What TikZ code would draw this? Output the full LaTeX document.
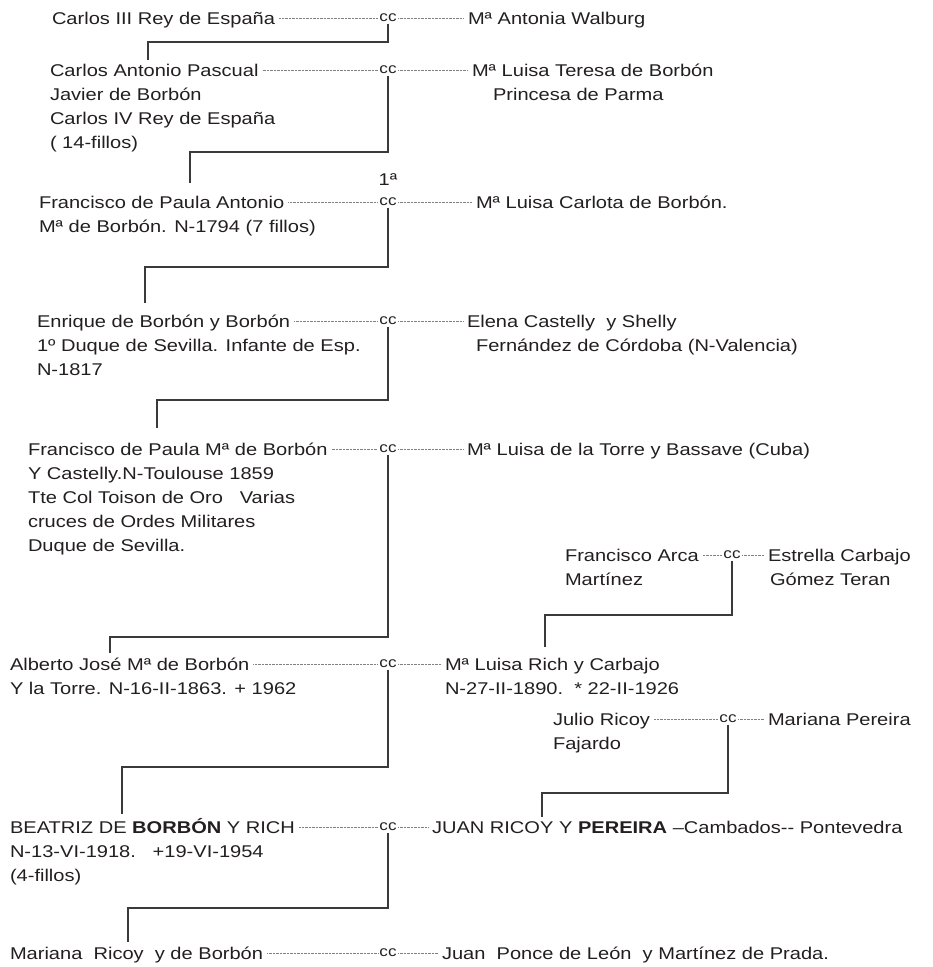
\documentclass[tikz,border=0pt]{standalone}
\usepackage{fontspec}
\setmainfont[FakeStretch=1.18]{Liberation Sans}
\usetikzlibrary{positioning,calc}
\definecolor{ink}{HTML}{231F20}
\definecolor{rule}{HTML}{3A3A3A}
\tikzset{
    person/.style = {
        anchor=base west,
        inner sep=0pt,
        outer sep=4pt,
        text=ink,
        font=\fontsize{17}{24.2}\selectfont
    },
    notes/.style = {
        person,
        align=left
    },
    wed/.style = {
        inner sep=1.5pt,
        text=ink,
        font=\fontsize{14.5}{14.5}\selectfont
    },
    leader/.style = {
        draw=gray,
        line width=0.6pt,
        dash pattern=on 0.6pt off 0.8pt
    },
    link/.style = {
        draw=rule,
        line width=1.1pt
    },
}

\begin{document}
\begin{tikzpicture}[x=1pt, y=-1pt]
    \useasboundingbox (0,0) rectangle (933,967);

    % Carlos III
    \node[person] (carlos3) at (48,24) {Carlos III Rey de España};
    \node[wed] (cc1) at (388,18) {cc};
    \node[person] (antonia) at (464,24) {Mª Antonia Walburg};

    % Carlos IV (notes sit on the base of their last line)
    \node[person] (carlos4) at (46,76) {Carlos Antonio Pascual};
    \node[notes] (carlos4b) at (46,148.6) {Javier de Borbón\\Carlos IV Rey de España\\( 14-fillos)};
    \node[wed] (cc2) at (388,70) {cc};
    \node[person] (teresa) at (468,76) {Mª Luisa Teresa de Borbón};
    \node[person] (teresab) at (489,100.2) {Princesa de Parma};

    % Francisco de Paula Antonio
    \node[person] (paula) at (35,208) {Francisco de Paula Antonio};
    \node[person] (paulab) at (35,232.2) {Mª de Borbón. N-1794 (7 fillos)};
    \node[person, anchor=base] (primera) at (388,185) {1ª};
    \node[wed] (cc3) at (388,202) {cc};
    \node[person] (carlota) at (472,208) {Mª Luisa Carlota de Borbón.};

    % Enrique
    \node[person] (enrique) at (33,327) {Enrique de Borbón y Borbón};
    \node[notes] (enriqueb) at (33,375.4) {1º Duque de Sevilla. Infante de Esp.\\N-1817};
    \node[wed] (cc4) at (388,321) {cc};
    \node[person] (elena) at (463,327) {Elena Castelly\ \ y Shelly};
    \node[person] (elenab) at (472,351.2) {Fernández de Córdoba (N-Valencia)};

    % Francisco de Paula Ma
    \node[person] (fpaula) at (24,455) {Francisco de Paula Mª de Borbón};
    \node[notes] (fpaulab) at (24,551.8) {Y Castelly.N-Toulouse 1859\\Tte Col Toison de Oro\ \ \ Varias\\cruces de Ordes Militares\\Duque de Sevilla.};
    \node[wed] (cc5) at (388,449) {cc};
    \node[person] (torre) at (463,455) {Mª Luisa de la Torre y Bassave (Cuba)};

    % Arca
    \node[person] (arca) at (561,561) {Francisco Arca};
    \node[person] (arcab) at (561,585.2) {Martínez};
    \node[wed] (ccA) at (732,555) {cc};
    \node[person] (estrella) at (764,561) {Estrella Carbajo};
    \node[person] (estrellab) at (766,585.2) {Gómez Teran};

    % Alberto
    \node[person] (alberto) at (6,670) {Alberto José Mª de Borbón};
    \node[person] (albertob) at (6,694.2) {Y la Torre. N-16-II-1863. + 1962};
    \node[wed] (cc6) at (388,664) {cc};
    \node[person] (rich) at (441,670) {Mª Luisa Rich y Carbajo};
    \node[person] (richb) at (441,694.2) {N-27-II-1890.\ \ * 22-II-1926};

    % Julio
    \node[person] (julio) at (549,725) {Julio Ricoy};
    \node[person] (juliob) at (549,749.2) {Fajardo};
    \node[wed] (ccJ) at (728,719) {cc};
    \node[person] (pereira) at (764,725) {Mariana Pereira};

    % Beatriz
    \node[person] (beatriz) at (6,833) {BEATRIZ DE \textbf{BORBÓN} Y RICH};
    \node[notes] (beatrizb) at (6,881.4) {N-13-VI-1918.\ \ \ +19-VI-1954\\(4-fillos)};
    \node[wed] (cc7) at (388,827) {cc};
    \node[person] (juan) at (428,833) {JUAN RICOY Y \textbf{PEREIRA} –Cambados-{}- Pontevedra};

    % Mariana
    \node[person] (mariana) at (6,959) {Mariana\ \ Ricoy\ \ y de Borbón};
    \node[wed] (cc8) at (388,953) {cc};
    \node[person] (ponce) at (438,959) {Juan\ \ Ponce de León\ \ y Martínez de Prada.};

    % dotted leaders
    \path[leader] (carlos3.east |- cc1) -- (cc1.west);
    \path[leader] (cc1.east) -- (antonia.west |- cc1);
    \path[leader] (carlos4.east |- cc2) -- (cc2.west);
    \path[leader] (cc2.east) -- (teresa.west |- cc2);
    \path[leader] (paula.east |- cc3) -- (cc3.west);
    \path[leader] (cc3.east) -- (carlota.west |- cc3);
    \path[leader] (enrique.east |- cc4) -- (cc4.west);
    \path[leader] (cc4.east) -- (elena.west |- cc4);
    \path[leader] (fpaula.east |- cc5) -- (cc5.west);
    \path[leader] (cc5.east) -- (torre.west |- cc5);
    \path[leader] (arca.east |- ccA) -- (ccA.west);
    \path[leader] (ccA.east) -- (estrella.west |- ccA);
    \path[leader] (alberto.east |- cc6) -- (cc6.west);
    \path[leader] (cc6.east) -- (rich.west |- cc6);
    \path[leader] (julio.east |- ccJ) -- (ccJ.west);
    \path[leader] (ccJ.east) -- (pereira.west |- ccJ);
    \path[leader] (beatriz.east |- cc7) -- (cc7.west);
    \path[leader] (cc7.east) -- (juan.west |- cc7);
    \path[leader] (mariana.east |- cc8) -- (cc8.west);
    \path[leader] (cc8.east) -- (ponce.west |- cc8);

    % descent lines
    \coordinate (k1) at (148,42);
    \coordinate (k2) at (190,152);
    \coordinate (k3) at (145,267);
    \coordinate (k4) at (157,400);
    \coordinate (k5) at (110,637);
    \coordinate (kA) at (545,615);
    \coordinate (k6) at (122,767);
    \coordinate (kJ) at (542,793);
    \coordinate (k7) at (128,908);
    \path[link] (cc1.south) |- (k1) -- (k1 |- carlos4.north);
    \path[link, shorten >=9pt] (cc2.south) |- (k2) -- (k2 |- paula.north);
    \path[link, shorten >=7pt] (cc3.south) |- (k3) -- (k3 |- enrique.north);
    \path[link, shorten >=10pt] (cc4.south) |- (k4) -- (k4 |- fpaula.north);
    \path[link] (cc5.south) |- (k5) -- (k5 |- alberto.north);
    \path[link, shorten >=7pt] (ccA.south) |- (kA) -- (kA |- rich.north);
    \path[link] (cc6.south) |- (k6) -- (k6 |- beatriz.north);
    \path[link] (ccJ.south) |- (kJ) -- (kJ |- juan.north);
    \path[link] (cc7.south) |- (k7) -- (k7 |- mariana.north);
\end{tikzpicture}
\end{document}
